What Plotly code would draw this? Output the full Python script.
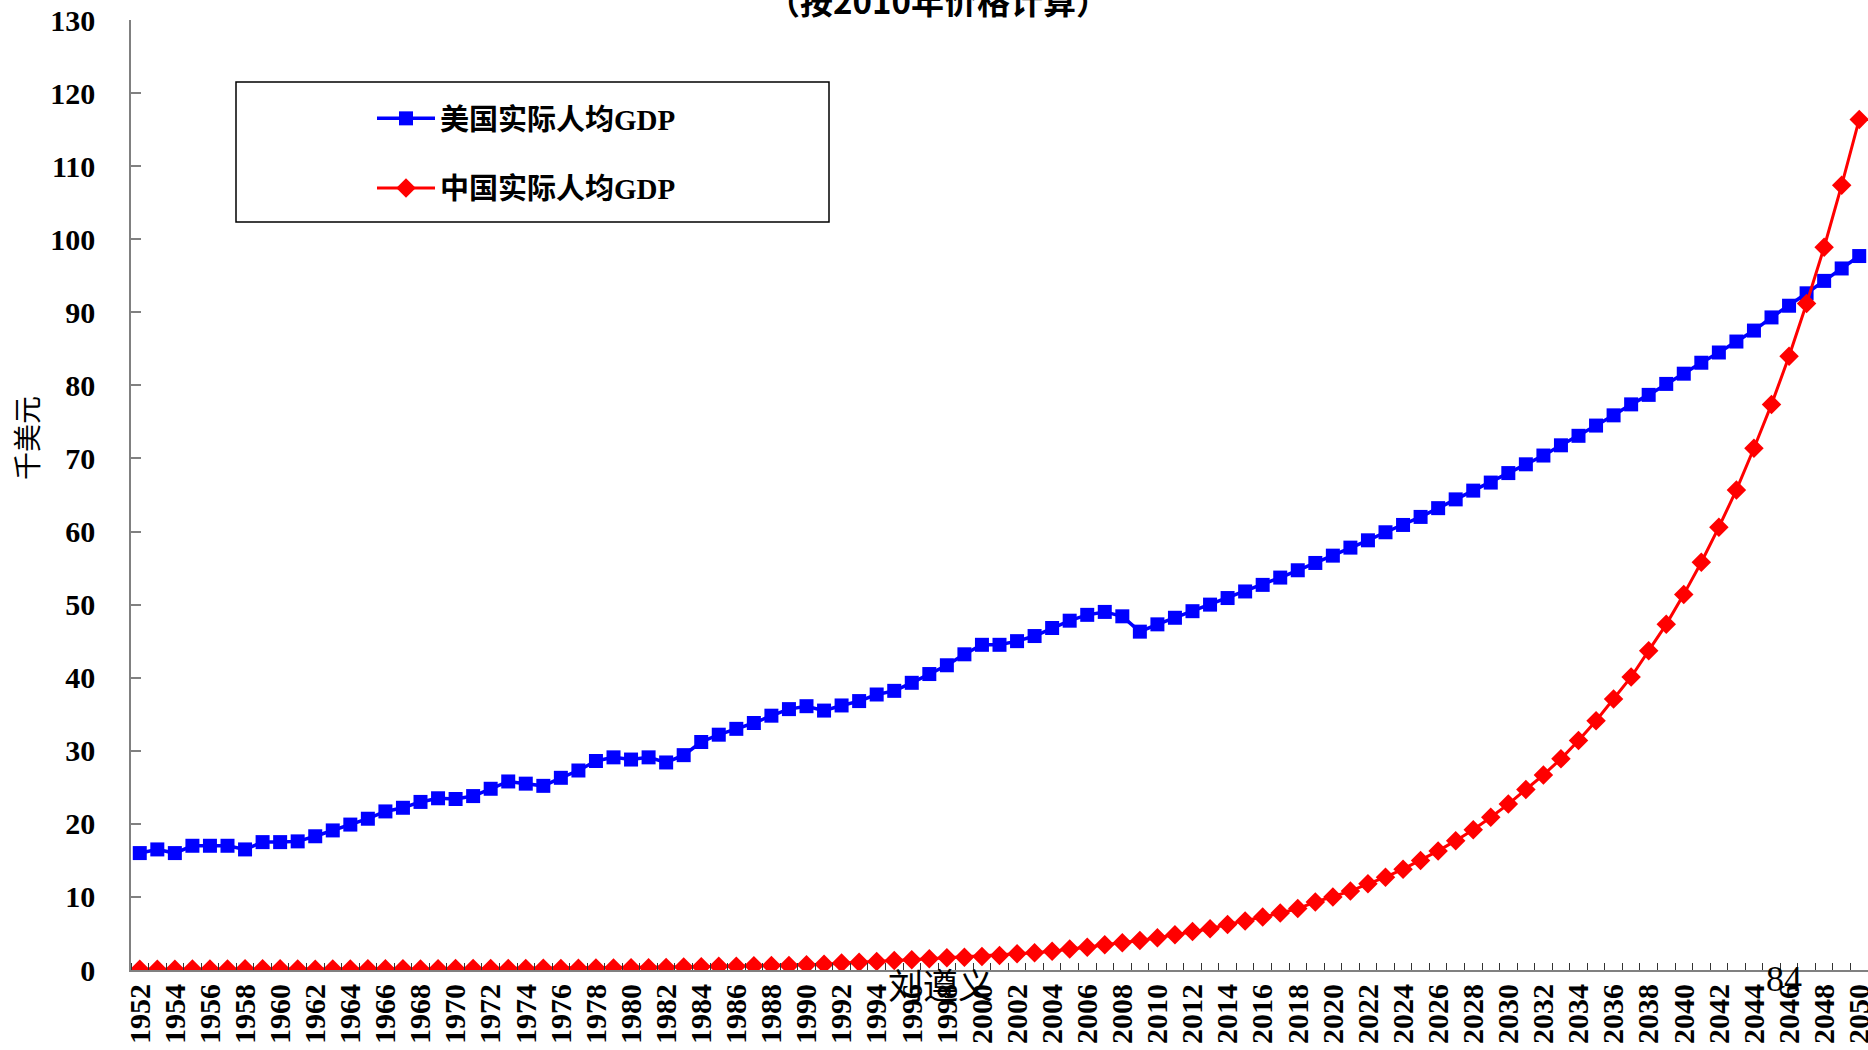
import plotly.graph_objects as go

# ---- data -------------------------------------------------------------
years = list(range(1952, 2051))

# US real GDP per capita, thousand USD (2010 prices)
us_gdp = [
    16.0, 16.5, 16.0, 17.0, 17.0, 17.0, 16.5, 17.5, 17.5, 17.6,
    18.3, 19.1, 19.9, 20.7, 21.7, 22.2, 23.0, 23.5, 23.4, 23.8,
    24.8, 25.8, 25.5, 25.2, 26.3, 27.3, 28.6, 29.1, 28.8, 29.1,
    28.4, 29.4, 31.2, 32.2, 33.0, 33.8, 34.8, 35.7, 36.1, 35.5,
    36.2, 36.8, 37.7, 38.2, 39.3, 40.5, 41.7, 43.2, 44.5, 44.5,
    45.0, 45.7, 46.8, 47.8, 48.6, 49.0, 48.4, 46.3, 47.3, 48.2,
    49.1, 50.0, 50.9, 51.8, 52.7, 53.7, 54.7, 55.7, 56.7, 57.8,
    58.8, 59.9, 60.9, 62.0, 63.2, 64.4, 65.6, 66.7, 68.0, 69.2,
    70.4, 71.8, 73.1, 74.5, 75.9, 77.4, 78.7, 80.2, 81.6, 83.1,
    84.5, 86.0, 87.5, 89.3, 90.9, 92.6, 94.3, 96.0, 97.7,
]

# China real GDP per capita, thousand USD (2010 prices)
cn_gdp = [
    0.10, 0.11, 0.11, 0.12, 0.13, 0.13, 0.16, 0.16, 0.16, 0.12,
    0.11, 0.12, 0.14, 0.16, 0.17, 0.16, 0.15, 0.17, 0.20, 0.20,
    0.21, 0.22, 0.22, 0.23, 0.22, 0.24, 0.26, 0.28, 0.30, 0.31,
    0.33, 0.40, 0.45, 0.50, 0.53, 0.57, 0.60, 0.62, 0.72, 0.80,
    0.95, 1.05, 1.17, 1.30, 1.40, 1.53, 1.67, 1.76, 1.86, 2.00,
    2.22, 2.36, 2.55, 2.86, 3.10, 3.46, 3.73, 4.04, 4.42, 4.83,
    5.28, 5.65, 6.24, 6.69, 7.24, 7.79, 8.40, 9.30, 10.0, 10.8,
    11.8, 12.7, 13.8, 15.0, 16.3, 17.7, 19.2, 20.9, 22.7, 24.7,
    26.7, 28.9, 31.4, 34.1, 37.1, 40.1, 43.7, 47.3, 51.4, 55.8,
    60.6, 65.7, 71.4, 77.4, 84.0, 91.2, 98.9, 107.4, 116.4,
]

label_years = years[::2]
label_text = [str(y) for y in label_years]

series_names = ["美国实际人均GDP", "中国实际人均GDP"]
title_text = "（按2010年价格计算）"
y_title = "千美元"

# ---- layout geometry (pixels) ----------------------------------------
W, H = 1868, 1050
ML, MR, MT, MB = 131, 0, 20, 80
PW, PH = W - ML - MR, H - MT - MB


def px(x):
    return (x - ML) / PW


def py(y):
    return (H - MB - y) / PH


SERIF = "Liberation Serif, Times New Roman, Noto Sans CJK SC, serif"
CJK = "Noto Sans CJK SC, sans-serif"

fig = go.Figure()

fig.add_trace(go.Scatter(
    x=years, y=us_gdp, name=series_names[0], legendgroup="us",
    mode="lines+markers",
    line=dict(color="#0000FF", width=3.5),
    marker=dict(symbol="square", size=14, color="#0000FF"),
))
fig.add_trace(go.Scatter(
    x=years, y=cn_gdp, name=series_names[1], legendgroup="cn",
    mode="lines+markers",
    line=dict(color="#FF0000", width=3),
    marker=dict(symbol="diamond", size=15, color="#FF0000"),
))

fig.update_layout(
    width=W, height=H,
    margin=dict(l=ML, r=MR, t=MT, b=MB, autoexpand=False),
    paper_bgcolor="white", plot_bgcolor="white",
    showlegend=True,
    legend=dict(
        x=px(372), y=py(93), xanchor="left", yanchor="top",
        bgcolor="rgba(0,0,0,0)", borderwidth=0,
        font=dict(family=SERIF, size=29, color="black", weight="bold"),
        tracegroupgap=29, traceorder="grouped", itemwidth=58,
    ),
    xaxis=dict(
        range=[1951.5, 2050.5], automargin=False,
        tickmode="array", tickvals=label_years, ticktext=label_text,
        tickangle=-90, ticks="", ticklabeloverflow="allow",
        tickfont=dict(family=SERIF, size=30, color="black", weight="bold"),
        showline=True, linecolor="#808080", linewidth=2,
        showgrid=False, zeroline=False,
        minor=dict(tickmode="linear", tick0=1951.5, dtick=1,
                   ticks="inside", ticklen=7, tickwidth=1,
                   tickcolor="#333333", showgrid=False),
    ),
    yaxis=dict(
        range=[0, 130], automargin=False,
        tickmode="linear", tick0=0, dtick=10,
        ticks="inside", ticklen=10, tickwidth=1.5, tickcolor="#808080",
        tickfont=dict(family=SERIF, size=30, color="black", weight="bold"),
        ticklabelstandoff=28,
        showline=True, linecolor="#808080", linewidth=1.5,
        showgrid=False, zeroline=False,
    ),
    shapes=[dict(
        type="rect", xref="paper", yref="paper",
        x0=px(236), x1=px(829), y0=py(222), y1=py(82),
        line=dict(color="black", width=1.5), fillcolor="rgba(0,0,0,0)",
    )],
    annotations=[
        dict(text=title_text, xref="paper", yref="paper",
             x=px(938), y=py(0), xanchor="center", yanchor="middle",
             showarrow=False,
             font=dict(family=CJK, size=33, color="black", weight="bold")),
        dict(text=y_title, xref="paper", yref="paper",
             x=px(26), y=py(438), xanchor="center", yanchor="middle",
             textangle=-90, showarrow=False,
             font=dict(family=CJK, size=28, color="black")),
        dict(text="刘遵义", xref="paper", yref="paper",
             x=px(940), y=py(983), xanchor="center", yanchor="middle",
             showarrow=False,
             font=dict(family=CJK, size=35, color="black")),
        dict(text="84", xref="paper", yref="paper",
             x=px(1784), y=py(979), xanchor="center", yanchor="middle",
             showarrow=False,
             font=dict(family=SERIF, size=36, color="black")),
    ],
)

fig.write_html("out.html")
